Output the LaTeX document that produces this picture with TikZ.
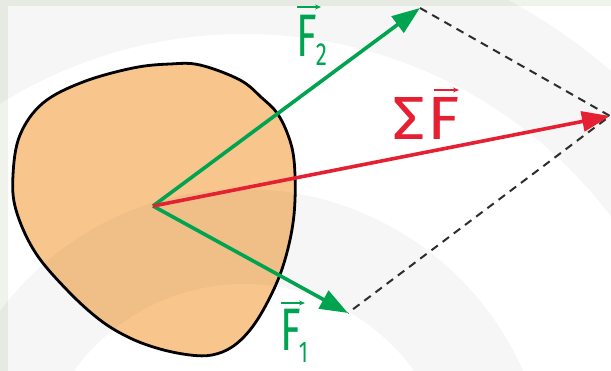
\documentclass[tikz,border=0pt]{standalone}
\usepackage{fontspec}
\setmainfont{Fira Sans}
\newfontfamily\labfont{Fira Sans}[FakeStretch=0.7]
\newfontfamily\sumfont{Fira Sans}[FakeStretch=1.08]
\usetikzlibrary{arrows.meta}
\definecolor{fgreen}{RGB}{0,163,80}
\definecolor{fred}{RGB}{228,32,50}
\definecolor{peach}{RGB}{248,198,140}
\definecolor{framec}{RGB}{240,243,236}
\definecolor{dashc}{RGB}{45,45,45}
\begin{document}
\begin{tikzpicture}[x=1pt,y=-1pt,
  force/.style={line width=3.6pt,-{Triangle[length=28pt,width=20pt]}},
  gforce/.style={force,draw=fgreen,fill=fgreen},
  rforce/.style={force,draw=fred,fill=fred},
  comp/.style={dash pattern=on 8pt off 6pt, line width=2pt, draw=dashc},
  lbl/.style={inner sep=0pt, anchor=base west, font=\labfont\fontsize{60}{60}\selectfont},
  vecar/.style={line width=1.1pt, -{Stealth[length=6pt,width=5pt]}},
  band/.style={fill=black, opacity=0.035, even odd rule},
  blob/.style={smooth cycle, tension=0.6}
]
\useasboundingbox (0,0) rectangle (611,371);
\fill[white] (0,0) rectangle (611,371);
\begin{scope}
  \clip (0,0) rectangle (611,371);
  \fill[framec] (0,0) rectangle (8,371);
  \fill[framec] (0,0) rectangle (611,6);
\end{scope}
% body fill
\fill[peach] plot[blob] coordinates {(200,65) (240,80) (262,98) (277,113) (288,135) (294,160) (295,200) (291,235) (281,272) (266,305) (250,330) (232,347) (212,355) (190,355) (160,349) (130,338) (100,320) (67,290) (35,252) (16,210) (13,175) (20,135) (43,103) (83,82) (133,68) (170,64)};
% watermark bands
\begin{scope}
  \clip (0,0) rectangle (611,371);
  \path[band] (244,494) circle[radius=305pt] circle[radius=210pt];
  \path[band] (244,494) circle[radius=560pt] circle[radius=460pt];
\end{scope}
% body outline
\draw[line width=2.8pt, black] plot[blob] coordinates {(200,65) (240,80) (262,98) (277,113) (288,135) (294,160) (295,200) (291,235) (281,272) (266,305) (250,330) (232,347) (212,355) (190,355) (160,349) (130,338) (100,320) (67,290) (35,252) (16,210) (13,175) (20,135) (43,103) (83,82) (133,68) (170,64)};
% points
\coordinate (O) at (153,206);
\coordinate (P1) at (348,313);
\coordinate (P2) at (420,8);
\coordinate (R) at (610,116);
% components
\draw[comp] (P2) -- (R) -- (P1);
\draw[gforce] (O) -- (P2);
\draw[gforce] (O) -- (P1);
\draw[rforce] (O) -- (R);
% labels
\node[lbl, text=fgreen] (l2) at (296,57) {F\kern-1pt\raisebox{-9pt}{\fontsize{32}{32}\selectfont 2}};
\draw[vecar, fgreen] ([shift={(1,-50)}]l2.base west) -- ++(24,0);
\node[lbl, text=fgreen] (l1) at (280,351) {F\kern-2pt\raisebox{-12pt}{\fontsize{30}{30}\selectfont 1}};
\draw[vecar, fgreen] ([shift={(1,-48)}]l1.base west) -- ++(24,0);
\node[lbl, text=fred, font=\sumfont\fontsize{61}{61}\selectfont] (ls) at (392,140) {Σ\kern2ptF};
\draw[vecar, fred] ([shift={(42,-50)}]ls.base west) -- ++(25,0);
\end{tikzpicture}
\end{document}
